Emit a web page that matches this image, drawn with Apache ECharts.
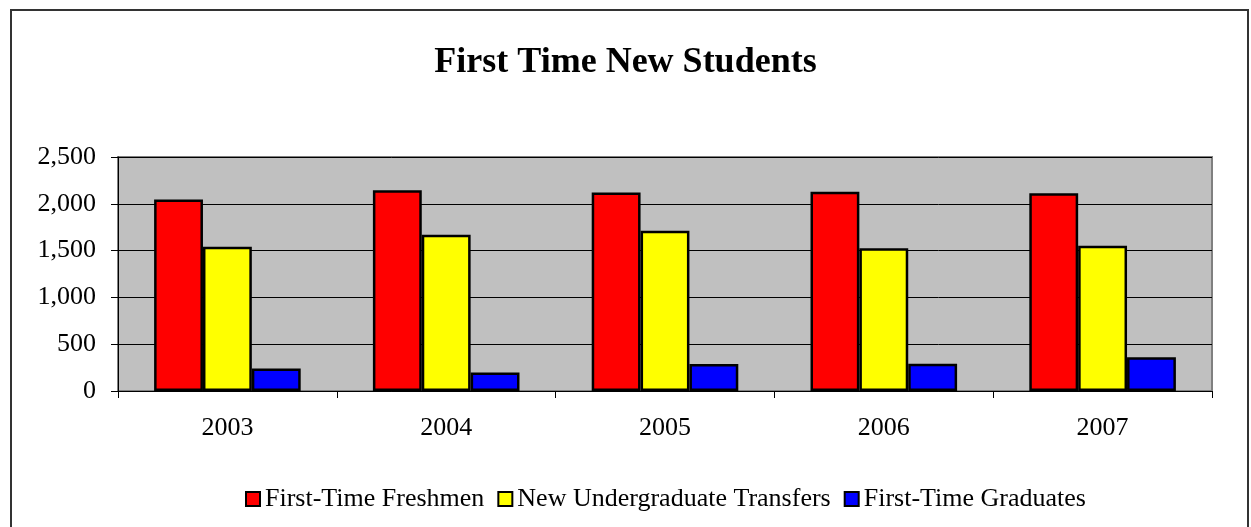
<!DOCTYPE html>
<html>
<head>
<meta charset="utf-8">
<script src="https://cdn.jsdelivr.net/npm/echarts@6/dist/echarts.min.js"></script>
<style>
  html, body { margin: 0; padding: 0; background: #fff; }
  #frame {
    position: absolute; left: 10px; top: 9px; width: 1239px; height: 530px;
    border: 2px solid #333; box-sizing: border-box;
  }
  #main { position: absolute; left: 0; top: 0; width: 1251px; height: 527px; }
</style>
</head>
<body>
<div id="frame"></div>
<div id="main"></div>
<script>
// categories
var years = ['2003', '2004', '2005', '2006', '2007']
// series values
var freshmen = [2045, 2145, 2120, 2130, 2113]
var transfers = [1540, 1670, 1713, 1525, 1553]
var graduates = [240, 197, 289, 290, 361]
// y axis ticks
var yMin = 0, yMax = 2500, yStep = 500

var font = '"Liberation Serif", "Times New Roman", serif'

var myChart = echarts.init(document.getElementById('main'))

function barSeries(name, data, color) {
  return {
    name: name,
    type: 'bar',
    data: data,
    barGap: '0%',
    barCategoryGap: '33%',
    itemStyle: { color: color, borderColor: '#000', borderWidth: 2.5 }
  }
}

myChart.setOption({
  animation: false,
  title: {
    text: 'First Time New Students',
    left: 'center',
    top: 40,
    textStyle: { fontFamily: font, fontSize: 36, fontWeight: 'bold', color: '#000' }
  },
  legend: {
    top: 481,
    left: 240,
    itemWidth: 14,
    itemHeight: 14,
    itemGap: 13,
    icon: 'rect',
    itemStyle: { borderColor: '#000', borderWidth: 2 },
    textStyle: { fontFamily: font, fontSize: 26, color: '#000' },
    data: ['First-Time Freshmen', 'New Undergraduate Transfers', 'First-Time Graduates']
  },
  grid: {
    left: 118, right: 39, top: 157, bottom: 136,
    show: true,
    backgroundColor: '#C0C0C0',
    borderColor: '#808080',
    borderWidth: 2
  },
  xAxis: {
    type: 'category',
    data: years,
    axisLine: { lineStyle: { color: '#000', width: 1 } },
    axisTick: { show: true, length: 7, lineStyle: { color: '#000' } },
    axisLabel: { fontFamily: font, fontSize: 26, color: '#000', margin: 24 }
  },
  yAxis: {
    type: 'value',
    min: yMin,
    max: yMax,
    interval: yStep,
    axisLine: { show: true, lineStyle: { color: '#000', width: 1 } },
    axisTick: { show: true, length: 7, lineStyle: { color: '#000' } },
    splitLine: { lineStyle: { color: '#000', width: 1 } },
    axisLabel: {
      fontFamily: font, fontSize: 26, color: '#000', margin: 22,
      formatter: function (v) { return v.toLocaleString('en-US') }
    }
  },
  series: [
    barSeries('First-Time Freshmen', freshmen, '#FF0000'),
    barSeries('New Undergraduate Transfers', transfers, '#FFFF00'),
    barSeries('First-Time Graduates', graduates, '#0000FF')
  ]
})
</script>
</body>
</html>
